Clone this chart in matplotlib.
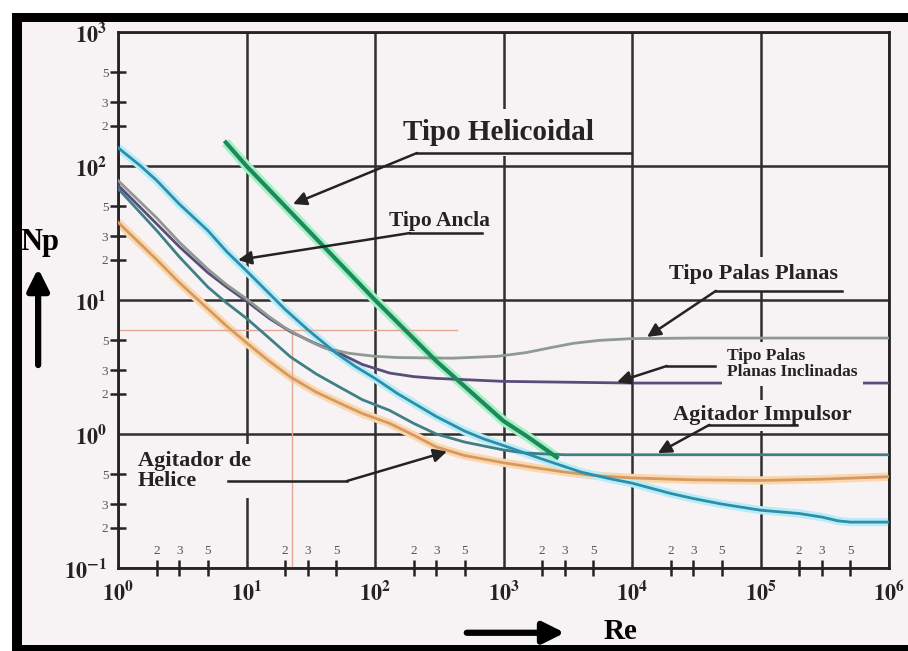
import numpy as np
import matplotlib
matplotlib.use("Agg")
import matplotlib.pyplot as plt
from matplotlib.patches import Rectangle, FancyArrowPatch
from matplotlib.ticker import LogLocator, NullFormatter, FuncFormatter

plt.rcParams["mathtext.fontset"] = "stix"
SERIF = ["Liberation Serif", "DejaVu Serif"]
BG = "#f7f3f4"
INK = "#232323"

# ── Curve data (Re, Np) ──────────────────────────────────────────────────────
re_helicoidal = [6.9, 10, 100, 300, 1000, 1500, 2600]
np_helicoidal = [150, 100, 10, 3.5, 1.25, 0.97, 0.67]

re_ancla = [1, 1.5, 2, 3, 5, 7, 10, 15, 20, 30, 50, 70, 100, 150, 200, 300,
            500, 700, 1000, 2000, 4000, 7000, 1e4, 2e4, 3e4, 5e4, 1e5, 2e5,
            3e5, 4e5, 5e5, 1e6]
np_ancla = [137, 100, 78, 52, 33, 23, 16.5, 11.2, 8.5, 6.0, 4.0, 3.2, 2.6,
            2.0, 1.7, 1.35, 1.05, 0.92, 0.82, 0.65, 0.52, 0.46, 0.43, 0.36,
            0.33, 0.30, 0.27, 0.255, 0.24, 0.225, 0.22, 0.22]

re_planas = [1, 2, 3, 5, 7, 10, 15, 20, 30, 40, 63, 100, 150, 400, 900, 1500,
             2300, 3500, 5600, 1e4, 3e4, 1e6]
np_planas = [78, 41, 27, 17, 13, 10.2, 7.5, 6.2, 5.0, 4.4, 4.0, 3.8, 3.72,
             3.68, 3.8, 4.05, 4.4, 4.75, 5.0, 5.15, 5.2, 5.2]

re_inclinadas = [1, 2, 3, 5, 7, 10, 15, 22, 35, 53, 80, 130, 200, 300, 1000,
                 1e4, 1e6]
np_inclinadas = [72, 37, 25, 16, 12.5, 9.8, 7.3, 5.8, 4.7, 4.0, 3.3, 2.85,
                 2.68, 2.6, 2.47, 2.4, 2.4]

re_impulsor = [1, 2, 3, 5, 7, 10, 15, 22, 35, 53, 80, 130, 200, 300, 500,
               1000, 1500, 3000, 1e6]
np_impulsor = [68, 33, 21, 12.5, 9.5, 7.3, 5.2, 3.76, 2.8, 2.24, 1.8, 1.5,
               1.2, 1.0, 0.87, 0.76, 0.72, 0.7, 0.7]

re_helice = [1, 2, 3, 5, 7, 10, 15, 22, 35, 53, 80, 130, 200, 300, 500, 1000,
             2000, 3000, 5000, 1e4, 3e4, 1e5, 3e5, 1e6]
np_helice = [38, 20, 13.5, 8.6, 6.4, 4.8, 3.5, 2.66, 2.05, 1.7, 1.42, 1.2,
             0.98, 0.8, 0.69, 0.61, 0.55, 0.52, 0.49, 0.47, 0.455, 0.45,
             0.46, 0.48]

# thin reference lines (reading example)
guide_re, guide_np, guide_re_end = 22.6, 6.0, 435

curves = [
    # re, np, core, halo, lw
    (re_helice,     np_helice,     "#d49a62", "#fbd7ae", 2.0),
    (re_impulsor,   np_impulsor,   "#3f7f86", None,      2.0),
    (re_inclinadas, np_inclinadas, "#5b4d7a", None,      2.0),
    (re_planas,     np_planas,     "#8e9a92", None,      2.0),
    (re_ancla,      np_ancla,      "#2c8ea8", "#b9ecf7", 2.0),
    (re_helicoidal, np_helicoidal, "#1d8a5c", "#a6f0c6", 3.0),
]

# ── Figure with scanned-page frame ───────────────────────────────────────────
W, H = 908, 651
fig = plt.figure(figsize=(W / 100, H / 100), dpi=100, facecolor="white")


def fig_rect(x0, y0, x1, y1, color):
    """Filled rectangle given in pixel coords from the top-left corner."""
    fig.patches.append(Rectangle((x0 / W, 1 - y1 / H), (x1 - x0) / W,
                                 (y1 - y0) / H, transform=fig.transFigure,
                                 facecolor=color, edgecolor="none", zorder=-1))


fig_rect(12, 13, W, H, BG)          # page
fig_rect(12, 13, 22, H, "black")     # left bar
fig_rect(12, 13, W, 22, "black")     # top bar
fig_rect(12, 645, W, H, "black")     # bottom bar

ax = fig.add_axes([118 / W, 1 - 568 / H, 771 / W, 536 / H])
ax.set_xscale("log")
ax.set_yscale("log")
ax.set_xlim(1, 1e6)
ax.set_ylim(0.1, 1000)
ax.set_facecolor(BG)
for s in ax.spines.values():
    s.set_linewidth(2)
    s.set_color(INK)
ax.grid(which="major", color="#2e2e2e", lw=1.8)

for re, npv, core, halo, lw in curves:
    if halo:
        ax.plot(re, npv, color=halo, lw=lw + 4, solid_capstyle="butt", zorder=2)
    ax.plot(re, npv, color=core, lw=lw, zorder=3)

ax.plot([1, guide_re_end], [guide_np, guide_np], color="#e3a797", lw=1.0, zorder=2)
ax.plot([guide_re, guide_re], [0.1, guide_np], color="#e3a797", lw=1.0, zorder=2)

# ── Ticks ────────────────────────────────────────────────────────────────────
major_fmt = FuncFormatter(lambda v, p: r"$\mathbf{10^{%d}}$" % round(np.log10(v)))


def minor_fmt(v, p):
    return str(int(round(v / 10 ** np.floor(np.log10(v) + 1e-9))))


for axis in (ax.xaxis, ax.yaxis):
    axis.set_major_locator(LogLocator(base=10, numticks=12))
    axis.set_minor_locator(LogLocator(base=10, subs=(2, 3, 5), numticks=30))
    axis.set_major_formatter(major_fmt)
ax.xaxis.set_minor_formatter(NullFormatter())
ax.yaxis.set_minor_formatter(FuncFormatter(minor_fmt))

ax.tick_params(which="major", length=0, labelsize=16, colors=INK)
ax.tick_params(axis="y", which="major", pad=8)
ax.tick_params(axis="x", which="major", pad=9)
ax.tick_params(which="minor", direction="inout", length=12, width=1.8,
               color=INK, labelsize=9.5, labelcolor="#555555", pad=1)
for lab in ax.get_yticklabels(minor=True):
    lab.set_family(SERIF)

for dec in range(6):
    for m in (2, 3, 5):
        ax.text(m * 10 ** dec, 0.032, str(m), transform=ax.get_xaxis_transform(),
                ha="center", va="center", fontsize=9.5, color="#555555",
                family=SERIF)

# ── Annotations ──────────────────────────────────────────────────────────────
box = dict(facecolor=BG, edgecolor="none")
arrow = dict(arrowstyle="-|>", color=INK, lw=1.8, mutation_scale=20,
             shrinkA=0, shrinkB=0)

ax.text(906, 156, "Tipo Helicoidal", ha="center", va="baseline", fontsize=21,
        fontweight="bold", family=SERIF, color=INK, zorder=6,
        bbox={**box, "pad": 7})
ax.plot([212, 9820], [125, 125], color=INK, lw=1.8, zorder=7)
ax.annotate("", xy=(23, 52), xytext=(212, 125), arrowprops=arrow, zorder=7)

ax.text(315, 35.7, "Tipo Ancla", ha="center", va="baseline", fontsize=15.5,
        fontweight="bold", family=SERIF, color=INK, zorder=6)
ax.plot([187, 680], [31.6, 31.6], color=INK, lw=1.8, zorder=7)
ax.annotate("", xy=(8.6, 19.9), xytext=(187, 31.6), arrowprops=arrow, zorder=7)

ax.text(8.9e4, 14.3, "Tipo Palas Planas", ha="center", va="baseline",
        fontsize=16, fontweight="bold", family=SERIF, color=INK, zorder=6,
        bbox={**box, "pad": 5})
ax.plot([4.5e4, 4.3e5], [11.7, 11.7], color=INK, lw=1.8, zorder=7)
ax.annotate("", xy=(1.31e4, 5.3), xytext=(4.5e4, 11.7), arrowprops=arrow, zorder=7)

ax.text(5.5e4, 3.33, "Tipo Palas\nPlanas Inclinadas", ha="left", va="center",
        fontsize=12.5, fontweight="bold", family=SERIF, color=INK, zorder=6,
        linespacing=1.0, bbox={**box, "pad": 4})
ax.plot([1.87e4, 4.4e4], [3.22, 3.22], color=INK, lw=1.8, zorder=7)
ax.annotate("", xy=(7650, 2.44), xytext=(1.87e4, 3.22), arrowprops=arrow, zorder=7)

ax.text(1.03e5, 1.27, "Agitador Impulsor", ha="center", va="baseline",
        fontsize=16, fontweight="bold", family=SERIF, color=INK, zorder=6,
        bbox={**box, "pad": 4})
ax.plot([4.0e4, 1.92e5], [1.17, 1.17], color=INK, lw=1.8, zorder=7)
ax.annotate("", xy=(1.59e4, 0.72), xytext=(4.0e4, 1.17), arrowprops=arrow, zorder=7)

ax.text(1.43, 0.53, "Agitador de\nHelice", ha="left", va="center",
        fontsize=16, fontweight="bold", family=SERIF, color=INK, zorder=6,
        linespacing=1.05, bbox={**box, "pad": 5})
ax.plot([7.18, 60.5], [0.446, 0.446], color=INK, lw=1.8, zorder=7)
ax.annotate("", xy=(363, 0.74), xytext=(60.5, 0.446), arrowprops=arrow, zorder=7)

# ── Axis titles with arrows ──────────────────────────────────────────────────
fig.text(0.044, 0.627, "Np", ha="center", va="center", fontsize=22,
         fontweight="bold", family=SERIF, color="black")
fig.add_artist(FancyArrowPatch((0.042, 0.435), (0.042, 0.592),
                               transform=fig.transFigure, arrowstyle="-|>",
                               mutation_scale=32, lw=4.5, color="black"))
fig.text(0.683, 0.030, "Re", ha="center", va="center", fontsize=21,
         fontweight="bold", family=SERIF, color="black")
fig.add_artist(FancyArrowPatch((0.511, 0.028), (0.625, 0.028),
                               transform=fig.transFigure, arrowstyle="-|>",
                               mutation_scale=32, lw=4.5, color="black"))

fig.savefig("out.png", dpi=100, facecolor="white")
